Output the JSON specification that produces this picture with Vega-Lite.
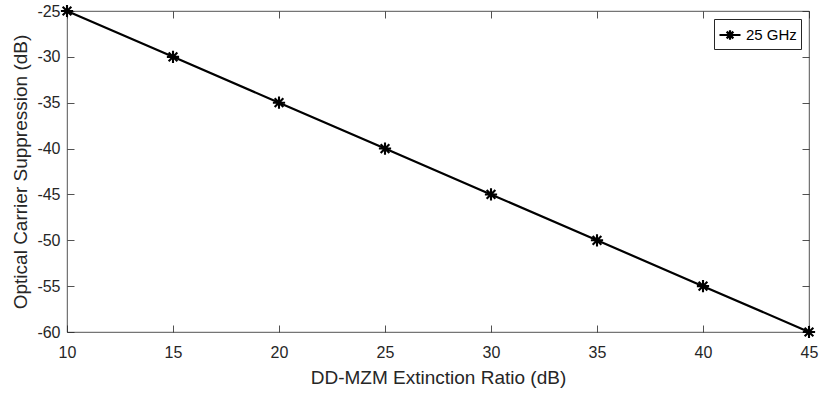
{
  "$schema": "https://vega.github.io/schema/vega-lite/v6.json",
  "width": 742,
  "height": 321,
  "autosize": {"type": "none"},
  "padding": {"left": 67, "top": 11, "right": 11, "bottom": 61},
  "background": "white",
  "config": {
    "font": "Liberation Sans",
    "view": {"stroke": "#262626", "strokeWidth": 0.8},
    "axis": {
      "domain": false,
      "grid": false,
      "ticks": true,
      "tickSize": -7,
      "tickColor": "#262626",
      "tickWidth": 0.8,
      "labelFlush": false,
      "labelOverlap": false,
      "labelFont": "Liberation Sans",
      "labelFontSize": 16,
      "labelColor": "#262626",
      "titleFont": "Liberation Sans",
      "titleFontSize": 19,
      "titleFontWeight": "normal",
      "titleColor": "#262626"
    }
  },
  "data": {
    "values": [
      {"er": 10, "ocs": -25, "series": "25 GHz"},
      {"er": 15, "ocs": -30, "series": "25 GHz"},
      {"er": 20, "ocs": -35, "series": "25 GHz"},
      {"er": 25, "ocs": -40, "series": "25 GHz"},
      {"er": 30, "ocs": -45, "series": "25 GHz"},
      {"er": 35, "ocs": -50, "series": "25 GHz"},
      {"er": 40, "ocs": -55, "series": "25 GHz"},
      {"er": 45, "ocs": -60, "series": "25 GHz"}
    ]
  },
  "layer": [
    {
      "mark": {"type": "line", "strokeWidth": 2.2, "clip": false},
      "encoding": {
        "x": {
          "field": "er", "type": "quantitative",
          "scale": {"domain": [10, 45], "nice": false, "zero": false},
          "axis": {"values": [10, 15, 20, 25, 30, 35, 40, 45], "title": "DD-MZM Extinction Ratio (dB)", "labelPadding": 19, "titlePadding": 8}
        },
        "y": {
          "field": "ocs", "type": "quantitative",
          "scale": {"domain": [-60, -25], "nice": false, "zero": false},
          "axis": {"values": [-60, -55, -50, -45, -40, -35, -30, -25], "labelExpr": "replace(datum.label, '−', '-')", "title": "Optical Carrier Suppression (dB)", "labelPadding": 14, "titlePadding": 6}
        },
        "color": {
          "field": "series", "type": "nominal",
          "scale": {"range": ["black"]},
          "legend": {
            "title": null,
            "orient": "top-right",
            "offset": 8,
            "fillColor": "white",
            "strokeColor": "#262626",
            "padding": 4,
            "labelFont": "Liberation Sans",
            "labelFontSize": 15,
            "labelColor": "#000000",
            "labelOffset": 4,
            "symbolType": "M-1,0L1,0M-0.45,0L0.45,0M0,-0.45L0,0.45M-0.32,-0.32L0.32,0.32M-0.32,0.32L0.32,-0.32",
            "symbolSize": 441,
            "symbolStrokeWidth": 2.2,
            "symbolStrokeColor": "black"
          }
        }
      }
    },
    {
      "mark": {"type": "point", "filled": false, "strokeWidth": 2.1, "size": 150, "opacity": 1, "clip": false,
        "shape": "M-1,0L1,0M0,-1L0,1M-0.71,-0.71L0.71,0.71M-0.71,0.71L0.71,-0.71"},
      "encoding": {
        "x": {"field": "er", "type": "quantitative", "axis": null},
        "y": {"field": "ocs", "type": "quantitative", "axis": null},
        "color": {"field": "series", "type": "nominal"}
      }
    },
    {
      "mark": {"type": "point", "opacity": 0},
      "encoding": {
        "x": {"field": "er", "type": "quantitative",
          "axis": {"orient": "top", "labels": false, "title": null, "values": [10, 15, 20, 25, 30, 35, 40, 45]}},
        "y": {"field": "ocs", "type": "quantitative",
          "axis": {"orient": "right", "labels": false, "title": null, "values": [-60, -55, -50, -45, -40, -35, -30, -25]}}
      }
    }
  ],
  "resolve": {"axis": {"x": "independent", "y": "independent"}}
}
